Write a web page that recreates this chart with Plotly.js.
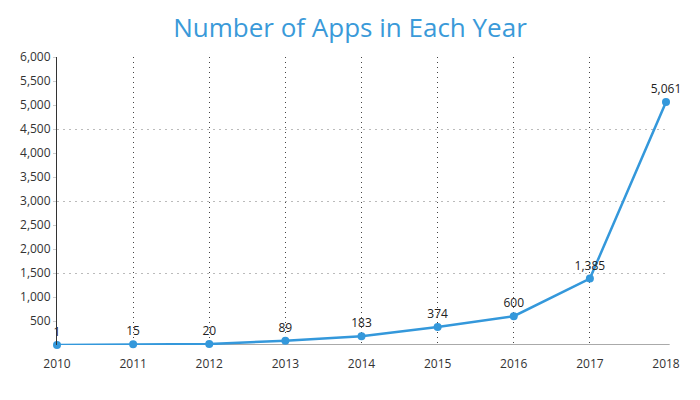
<!DOCTYPE html>
<html>
<head>
<meta charset="utf-8">
<script src="https://cdn.plot.ly/plotly-3.0.1.min.js"></script>
<style>html,body{margin:0;padding:0;background:#fff;}#chart{width:700px;height:400px;}</style>
</head>
<body>
<div id="chart"></div>
<script>
const years = [2010, 2011, 2012, 2013, 2014, 2015, 2016, 2017, 2018];
const apps = [1, 15, 20, 89, 183, 374, 600, 1385, 5061];
const chartTitle = "Number of Apps in Each Year";

const labels = apps.map(v => v.toLocaleString('en-US'));

const trace = {
  x: years,
  y: apps,
  type: 'scatter',
  mode: 'lines+markers+text',
  text: labels,
  textposition: 'top center',
  textfont: {family: 'Open Sans', size: 12, color: '#222'},
  line: {color: '#3498db', width: 2.5},
  marker: {color: '#3498db', size: 8},
  cliponaxis: false,
  hoverinfo: 'x+y'
};
const gridTrace = {
  x: years, y: apps, yaxis: 'y2', type: 'scatter', mode: 'none', showlegend: false, hoverinfo: 'skip'
};

const layout = {
  width: 700, height: 400,
  margin: {l: 57, r: 34, t: 57, b: 55},
  paper_bgcolor: '#fff', plot_bgcolor: '#fff',
  showlegend: false,
  font: {family: 'Open Sans', size: 12, color: '#333'},
  title: {text: chartTitle, x: 0.5, xanchor: 'center', y: 0.93, yanchor: 'middle',
          font: {family: 'Open Sans', size: 26, color: '#3a9ad9'}},
  xaxis: {
    range: [2010, 2018], tickvals: years, ticktext: years.map(String),
    showgrid: true, gridcolor: '#444', griddash: '1px,4px', gridwidth: 1,
    showline: false, zeroline: false, ticks: 'outside', ticklen: 8, tickcolor: 'rgba(0,0,0,0)',
    tickfont: {family: 'Open Sans', size: 12, color: '#333'}
  },
  yaxis: {
    range: [0, 6000], tickformat: ',d',
    showgrid: false, zeroline: false,
    showline: true, linecolor: '#333', linewidth: 1,
    ticks: 'outside', ticklen: 3, tickcolor: '#ccc',
    tickfont: {family: 'Open Sans', size: 12, color: '#333'},
    showticklabels: true,
    tickvals: [500,1000,1500,2000,2500,3000,3500,4000,4500,5000,5500,6000]
  },
  yaxis2: {
    overlaying: 'y', range: [0, 6000], tickvals: [1500, 3000, 4500, 6000],
    showgrid: true, gridcolor: '#bbb', griddash: '2px,4px', gridwidth: 1,
    showticklabels: false, zeroline: false, showline: false, ticks: ''
  },
  shapes: [{
    type: 'line', xref: 'paper', yref: 'y', x0: 0, x1: 1.006, y0: 0, y1: 0,
    line: {color: '#aaa', width: 2}, layer: 'below'
  }]
};

Plotly.newPlot('chart', [gridTrace, trace], layout, {displayModeBar: false, staticPlot: true});
</script>
</body>
</html>
